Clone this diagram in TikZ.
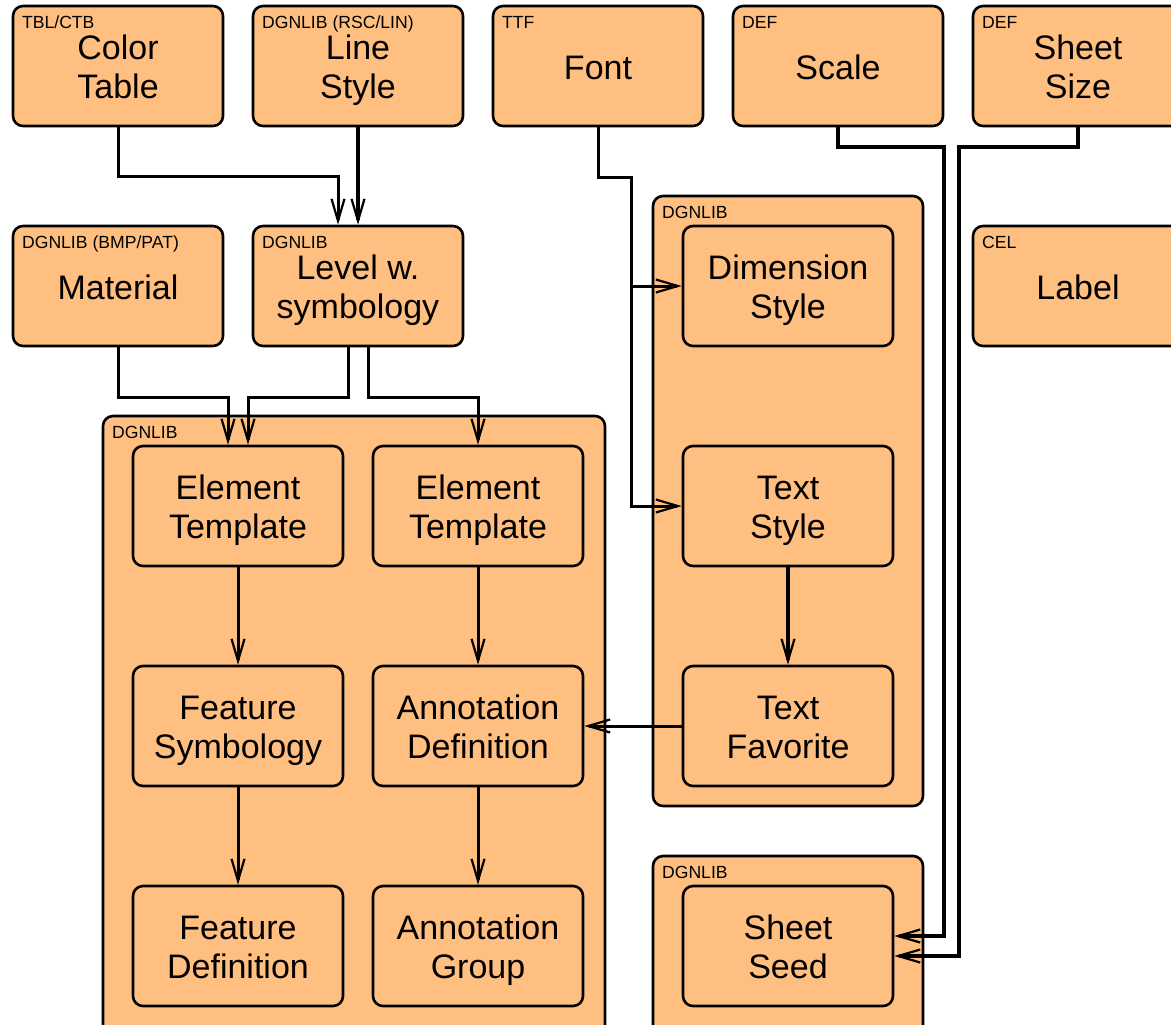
\documentclass[tikz,border=0pt]{standalone}
\usepackage{fontspec}
\setmainfont{Liberation Sans}
\usetikzlibrary{arrows.meta}
\definecolor{boxfill}{HTML}{FFBF80}
\newcommand\twol[2]{\rule{0pt}{17pt}#1\\#2\rule[-4pt]{0pt}{4pt}}
\newcommand\onel[1]{\rule[-4pt]{0pt}{21pt}#1}
\begin{document}
\begin{tikzpicture}[x=0.5pt,y=-0.5pt,
  box/.style={draw=black, fill=boxfill, line width=1.3pt, rounded corners=5pt,
    inner sep=0pt, align=center, minimum width=105pt, minimum height=60pt,
    font=\fontsize{17}{19.5}\selectfont},
  group/.style={draw=black, fill=boxfill, line width=1.3pt, rounded corners=5pt, inner sep=0pt},
  tag/.style={anchor=base west, inner sep=0pt, font=\fontsize{8.8}{10}\selectfont},
  conn/.style={line width=1.5pt, line join=miter,
    -{Straight Barb[length=11pt,width=6.5pt,line width=1.1pt]}},
  thick conn/.style={conn, line width=2.1pt},
]
\useasboundingbox (0,0) rectangle (1171,1024);

% containers
\node[group, minimum width=251pt, minimum height=310pt] (g1) at (354,726) {};
\node[group, minimum width=135pt, minimum height=305pt] (g2) at (788,501) {};
\node[group, minimum width=135pt, minimum height=90pt] (g3) at (788,946) {};
\node[tag] (g1t) at ([xshift=5pt,yshift=-11.8pt]g1.north west) {DGNLIB};
\node[tag] (g2t) at ([xshift=5pt,yshift=-11.8pt]g2.north west) {DGNLIB};
\node[tag] (g3t) at ([xshift=5pt,yshift=-11.8pt]g3.north west) {DGNLIB};

% top row
\node[box] (ct) at (118,66) {\twol{Color}{Table}};
\node[box] (ls) at (358,66) {\twol{Line}{Style}};
\node[box] (font) at (598,66) {\onel{Font}};
\node[box] (scale) at (838,66) {\onel{Scale}};
\node[box] (size) at (1078,66) {\twol{Sheet}{Size}};
\node[tag] at ([xshift=5pt,yshift=-11.8pt]ct.north west) {TBL/CTB};
\node[tag] at ([xshift=5pt,yshift=-11.8pt]ls.north west) {DGNLIB (RSC/LIN)};
\node[tag] at ([xshift=5pt,yshift=-11.8pt]font.north west) {TTF};
\node[tag] at ([xshift=5pt,yshift=-11.8pt]scale.north west) {DEF};
\node[tag] at ([xshift=5pt,yshift=-11.8pt]size.north west) {DEF};

% second row
\node[box] (mat) at (118,286) {\onel{Material}};
\node[box] (lvl) at (358,286) {\twol{Level w.}{symbology}};
\node[box] (ds) at (788,286) {\twol{Dimension}{Style}};
\node[box] (lab) at (1078,286) {\onel{Label}};
\node[tag] at ([xshift=5pt,yshift=-11.8pt]mat.north west) {DGNLIB (BMP/PAT)};
\node[tag] at ([xshift=5pt,yshift=-11.8pt]lvl.north west) {DGNLIB};
\node[tag] at ([xshift=5pt,yshift=-11.8pt]lab.north west) {CEL};

% inner boxes
\node[box] (etl) at (238,506) {\twol{Element}{Template}};
\node[box] (etr) at (478,506) {\twol{Element}{Template}};
\node[box] (ts) at (788,506) {\twol{Text}{Style}};
\node[box] (fs) at (238,726) {\twol{Feature}{Symbology}};
\node[box] (ad) at (478,726) {\twol{Annotation}{Definition}};
\node[box] (tf) at (788,726) {\twol{Text}{Favorite}};
\node[box] (fd) at (238,946) {\twol{Feature}{Definition}};
\node[box] (ag) at (478,946) {\twol{Annotation}{Group}};
\node[box] (ss) at (788,946) {\twol{Sheet}{Seed}};

% connectors
\draw[conn] (ct.south) -- ++(0,49) -| ([xshift=-10pt]lvl.north);
\draw[thick conn] (ls.south) -- (lvl.north);
\draw[conn] (mat.south) -- ++(0,50) -| ([xshift=-5pt]etl.north);
\draw[conn] ([xshift=-5pt]lvl.south) -- ++(0,50) -| ([xshift=5pt]etl.north);
\draw[conn] ([xshift=5pt]lvl.south) -- ++(0,50) -| (etr.north);
\draw[conn] (etl.south) -- (fs.north);
\draw[conn] (fs.south) -- (fd.north);
\draw[conn] (etr.south) -- (ad.north);
\draw[conn] (ad.south) -- (ag.north);
\draw[conn] (font.south) -- ++(0,50) -| ([xshift=-25pt]ts.west) -- (ts.west);
\draw[conn] ([xshift=-25pt]ds.west) -- (ds.west);
\draw[thick conn] (ts.south) -- (tf.north);
\draw[conn] (tf.west) -- (ad.east);
\draw[thick conn] (scale.south) -- ++(0,20) -| ([xshift=25pt,yshift=5pt]ss.east) -- ([yshift=5pt]ss.east);
\draw[thick conn] (size.south) -- ++(0,20) -| ([xshift=32.5pt,yshift=-5pt]ss.east) -- ([yshift=-5pt]ss.east);
\end{tikzpicture}
\end{document}
